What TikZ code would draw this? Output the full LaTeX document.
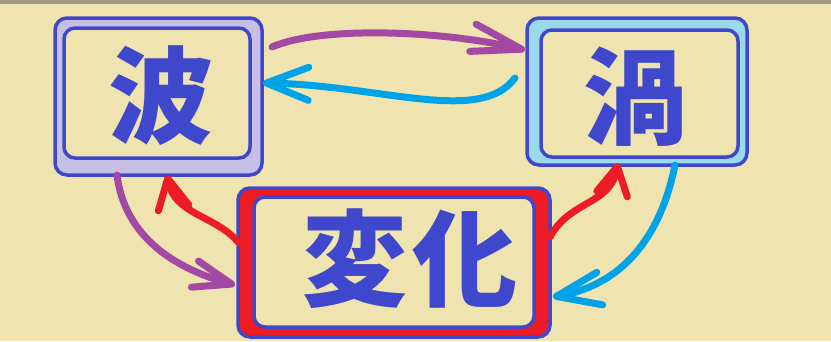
\documentclass[tikz,border=0pt]{standalone}
\usepackage{fontspec}
\newfontfamily\cjk{Noto Sans CJK JP}
\usetikzlibrary{arrows.meta,calc}
\definecolor{bg}{RGB}{239,228,176}
\definecolor{topband}{RGB}{160,152,132}
\definecolor{bblue}{RGB}{63,72,204}
\definecolor{lav}{RGB}{200,191,231}
\definecolor{lblue}{RGB}{153,217,234}
\definecolor{pred}{RGB}{237,28,36}
\definecolor{ppurple}{RGB}{163,73,164}
\definecolor{pcyan}{RGB}{0,162,232}
\tikzset{
  outerbox/.style={draw=bblue, line width=3.5pt, rounded corners=12pt, outer sep=0pt, inner sep=0pt},
  innerbox/.style={draw=bblue, fill=bg, line width=3.5pt, rounded corners=11pt, outer sep=0pt, inner sep=0pt},
  bigtext/.style={text=bblue, font=\cjk\bfseries\fontsize{105}{105}\selectfont, inner sep=0pt},
  arr/.style={line width=7pt, line cap=round},
}
\begin{document}
\begin{tikzpicture}[x=1pt,y=-1pt]
\useasboundingbox (0,0) rectangle (831,341);
\fill[bg] (0,0) rectangle (831,341);
\fill[topband] (0,0) rectangle (831,4);

% boxes
\node[outerbox, fill=lav, minimum width=207pt, minimum height=157pt] (waveo) at (158.5,96.5) {};
\node[innerbox, minimum width=186pt, minimum height=130pt] (wavei) at (157,93) {};
\node[bigtext] (wavet) at (161,96) {波};

\node[outerbox, fill=lblue, minimum width=220pt, minimum height=147pt] (vortexo) at (637,91.5) {};
\node[innerbox, minimum width=197pt, minimum height=127pt] (vortexi) at (639.5,93.5) {};
\node[bigtext] (vortext) at (636,97) {渦};

\node[outerbox, fill=pred, minimum width=312pt, minimum height=149pt] (changeo) at (394,262.5) {};
\node[innerbox, minimum width=280pt, minimum height=130pt] (changei) at (394,262) {};
\node[bigtext] (changet) at (410,259) {変\hspace{6pt}化};

% connector end points
\coordinate (a1s) at ($(waveo.north east)+(10,29)$);
\coordinate (a1e) at ($(vortexo.north west)+(-2,32)$);
\coordinate (a2s) at ($(vortexo.north west)+(-12,60)$);
\coordinate (a2e) at ($(waveo.north east)+(1,65)$);
\coordinate (a3s) at ($(waveo.south west)+(62,0)$);
\coordinate (a3e) at ($(changeo.north west)+(-3,97)$);
\coordinate (a4s) at ($(changeo.north west)+(0,54)$);
\coordinate (a4e) at ($(waveo.south west)+(112,0)$);
\coordinate (a5s) at ($(changeo.north east)+(0,49)$);
\coordinate (a5e) at ($(vortexo.south west)+(91,-2)$);
\coordinate (a6s) at ($(vortexo.south west)+(148,0)$);
\coordinate (a6e) at ($(changeo.north east)+(3,109)$);

% arrows
\draw[arr, ppurple, -{Straight Barb[length=50pt,width=28pt,round]}]
  (a1s) .. controls (320,26) and (440,30) .. (a1e);
\draw[arr, pcyan, -{Straight Barb[length=42pt,width=33pt,round]}]
  (a2s) .. controls (480,125) and (380,85) .. (a2e);
\draw[arr, ppurple, -{Straight Barb[length=38pt,width=27pt,round]}]
  (a3s) .. controls (125,240) and (180,270) .. (a3e);
\draw[arr, pred, -{Straight Barb[length=30pt,width=31pt,round]}]
  (a4s) .. controls (215,215) and (175,215) .. (a4e);
\draw[arr, pred, -{Straight Barb[length=28pt,width=31pt,round]}]
  (a5s) .. controls (570,200) and (610,205) .. (a5e);
\draw[arr, pcyan, -{Straight Barb[length=44pt,width=33pt,round]}]
  (a6s) .. controls (660,240) and (620,285) .. (a6e);
\end{tikzpicture}
\end{document}
